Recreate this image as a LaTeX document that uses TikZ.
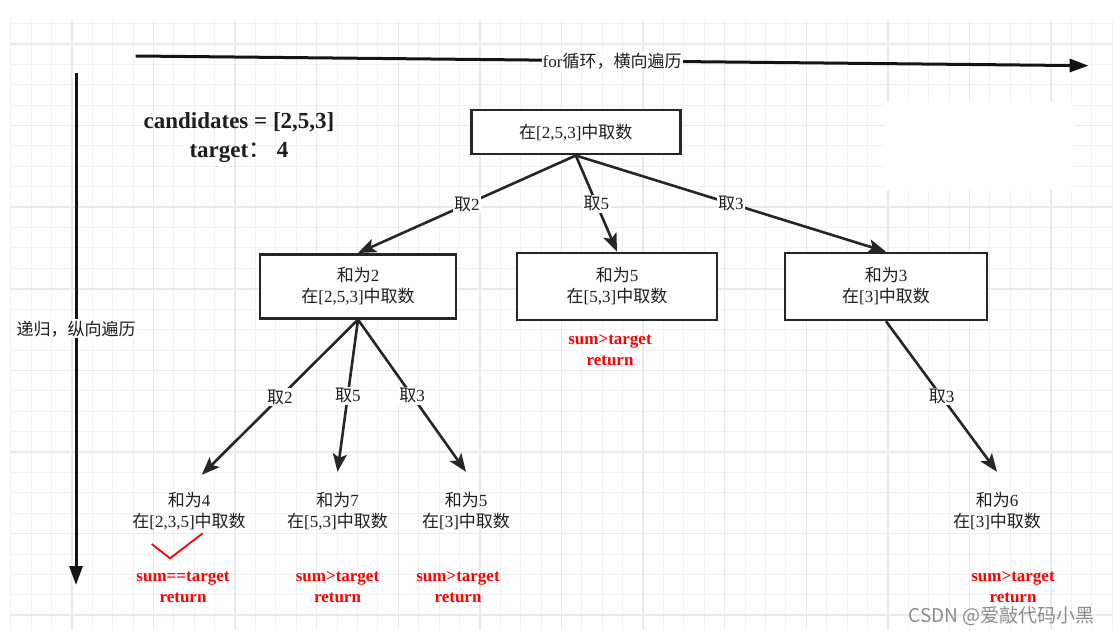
\documentclass[tikz,border=0pt]{standalone}
\usepackage{fontspec}
\setmainfont{Liberation Serif}
\newfontfamily\cjk{Noto Sans CJK SC}
\usetikzlibrary{arrows.meta}
\newcommand\zh[1]{{\cjk #1}}
\definecolor{gmin}{HTML}{F2F2F2}
\definecolor{gmaj}{HTML}{EAEAEA}
\definecolor{ink}{HTML}{262626}
\definecolor{txt}{HTML}{1E1E1E}
\definecolor{redt}{HTML}{FF0000}
\begin{document}
\begin{tikzpicture}[x=1pt,y=-1pt,
  gminor/.style={draw=gmin,line width=1pt},
  gmajor/.style={draw=gmaj,line width=1.5pt},
  box/.style={draw=ink,line width=2.6pt,fill=white,align=center,text=txt,inner sep=0pt,
    font=\fontsize{17}{21}\selectfont},
  leaf/.style={align=center,text=txt,inner sep=0pt,minimum width=120pt,minimum height=78pt,
    font=\fontsize{17}{21}\selectfont},
  redtxt/.style={align=center,text=redt,inner sep=0pt,font=\fontsize{17}{21}\selectfont\bfseries},
  lbl/.style={fill=white,text=txt,inner sep=1.5pt,font=\fontsize{17}{21}\selectfont},
  conn/.style={draw=ink,line width=2.6pt,-{Stealth[length=18pt,width=14pt,inset=4pt]}},
  bigarrow/.style={draw=black!92,line width=3pt,-{Triangle[length=19pt,width=13pt]}}
]
\useasboundingbox (0,0) rectangle (1113,636);
\fill[white] (0,0) rectangle (1113,636);
% grid
\foreach \k in {0,...,54} \draw[gminor] ({10.7+20.4*\k},20) -- ({10.7+20.4*\k},630);
\foreach \k in {0,...,29} \draw[gminor] (10,{23.6+20.4*\k}) -- (1113,{23.6+20.4*\k});
\foreach \k in {0,...,12} \draw[gmajor] ({71.9+81.6*\k},20) -- ({71.9+81.6*\k},630);
\foreach \k in {0,...,7} \draw[gmajor] (10,{44+81.6*\k}) -- (1113,{44+81.6*\k});
\fill[white] (885,102) rectangle (1074,190);

% axes
\coordinate (h1) at (135.7,56);
\coordinate (h2) at (1088.6,65.7);
\draw[bigarrow] (h1) -- node[lbl,inner sep=1pt]{for\zh{循环，横向遍历}} (h2);
\coordinate (v1) at (76,72.7);
\coordinate (v2) at (76,585);
\draw[bigarrow] (v1) -- node[lbl]{\zh{递归，纵向遍历}} (v2);

% title text
\node[align=center,text=txt,inner sep=0pt,font=\fontsize{23}{29}\selectfont\bfseries] (cand) at (239,137.2)
  {candidates = [2,5,3]\\target{\mdseries\zh{：}} 4};

% boxes
\node[box,minimum width=209pt,minimum height=44pt] (root) at (575.8,132.2) {\zh{在}[2,5,3]\zh{中取数}};
\node[box,minimum width=196pt,minimum height=64pt] (A) at (358,286.3) {\zh{和为}2\\\zh{在}[2,5,3]\zh{中取数}};
\node[box,minimum width=200pt,minimum height=67pt] (B) at (617,286.5) {\zh{和为}5\\\zh{在}[5,3]\zh{中取数}};
\node[box,minimum width=202pt,minimum height=67pt] (C) at (886,286.5) {\zh{和为}3\\\zh{在}[3]\zh{中取数}};

% leaves
\node[leaf] (L4) at (189,511) {\zh{和为}4\\\zh{在}[2,3,5]\zh{中取数}};
\node[leaf] (L7) at (337.5,511) {\zh{和为}7\\\zh{在}[5,3]\zh{中取数}};
\node[leaf] (L5) at (466,511) {\zh{和为}5\\\zh{在}[3]\zh{中取数}};
\node[leaf] (L6) at (997,511) {\zh{和为}6\\\zh{在}[3]\zh{中取数}};

% connectors
\draw[conn] (root.south) -- node[lbl]{\zh{取}2} (A.north);
\draw[conn] (root.south) -- node[lbl]{\zh{取}5} (B.north);
\draw[conn] (root.south) -- node[lbl]{\zh{取}3} (C.north);
\draw[conn] (A.south) -- node[lbl]{\zh{取}2} ([xshift=12.8pt,yshift=-3pt]L4.north);
\draw[conn] (A.south) -- node[lbl]{\zh{取}5} (L7.north);
\draw[conn] (A.south) -- node[lbl]{\zh{取}3} (L5.north);
\draw[conn] (C.south) -- node[lbl]{\zh{取}3} (L6.north);

% red texts
\node[redtxt] (r4) at (183,587.2) {sum==target\\return};
\node[redtxt] (r7) at (337.5,587.2) {sum>target\\return};
\node[redtxt] (r5) at (458,587.2) {sum>target\\return};
\node[redtxt] (rB) at (610,350) {sum>target\\return};
\node[redtxt] (r6) at (1013,587.2) {sum>target\\return};

% check mark
\coordinate (c1) at (151.7,544);
\coordinate (c2) at (170,558.3);
\coordinate (c3) at (202.7,533.3);
\draw[redt,line width=1.8pt] (c1) -- (c2) -- (c3);

% watermark
\node[text=black!45,inner sep=0pt,font=\cjk\fontsize{19}{22}\selectfont] (wm) at (1001.5,616) {CSDN @爱敲代码小黑};
\end{tikzpicture}
\end{document}
